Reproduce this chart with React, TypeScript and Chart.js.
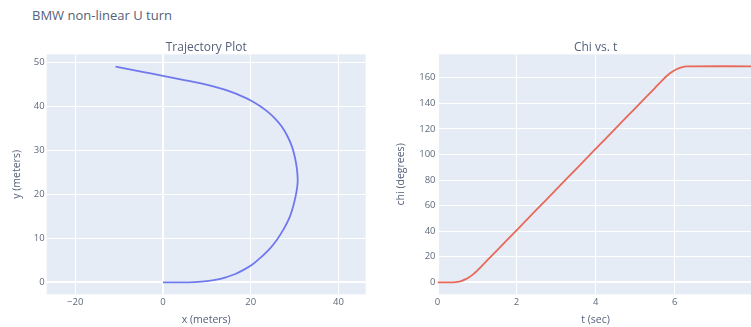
import React, { useEffect, useRef } from "react";
import { Chart, registerables } from "chart.js";

Chart.register(...registerables);

// ---- data ----
const mainTitle = "BMW non-linear U turn";

const trajX = [0, 4, 7, 10, 12.5, 14.5, 16.5, 18.3, 20.3, 22.1, 24.1, 25.9, 27.5, 28.9, 29.8, 30.4, 30.7, 30.55, 30.1, 29.4, 28.4, 27.1, 25.6, 23.9, 22.0, 20.0, 17.9, 15.7, 13.3, 10.8, 8.4, 4.0, 0.0, -5.0, -10.8];
const trajY = [0, 0, 0.05, 0.25, 0.65, 1.2, 1.9, 2.8, 4.0, 5.5, 7.4, 9.6, 12.1, 14.9, 17.8, 20.5, 23.0, 25.6, 28.3, 30.9, 33.2, 35.4, 37.2, 38.8, 40.2, 41.4, 42.4, 43.3, 44.1, 44.8, 45.35, 46.2, 47.0, 48.0, 49.1];

const chiT = [0, 0.4, 0.5, 0.6, 0.7, 0.8, 0.9, 1.0, 1.1, 1.5, 2, 2.5, 3, 3.5, 4, 4.5, 5, 5.5, 5.7, 5.8, 5.9, 6.0, 6.1, 6.2, 6.3, 6.4, 8];
const chiDeg = [0, 0, 0.25, 0.99, 2.23, 3.97, 6.2, 8.93, 12.08, 24.8, 40.7, 56.6, 72.5, 88.4, 104.3, 120.2, 136.1, 152.0, 158.4, 161.4, 163.9, 165.9, 167.4, 168.4, 168.9, 169, 169];

const trajXTicks = [-20, 0, 20, 40];
const trajYTicks = [0, 10, 20, 30, 40, 50];
const chiXTicks = [0, 2, 4, 6, 8];
const chiYTicks = [0, 20, 40, 60, 80, 100, 120, 140, 160];

const trajRange = { xMin: -26.5, xMax: 46.2, yMin: -2.73, yMax: 51.9 };
const chiRange = { xMin: 0, xMax: 8, yMin: -9.4, yMax: 178.3 };

// ---- style ----
const FONT = "'Open Sans', 'Noto Sans', Arial, sans-serif";
const TEXT = "#55617a";
const TICK = "#5e6a7c";
const PLOT_BG = "#e5ecf6";

const bgPlugin = {
  id: "plotBg",
  beforeDraw(chart: any) {
    const { ctx, chartArea } = chart;
    if (!chartArea) return;
    ctx.save();
    ctx.fillStyle = PLOT_BG;
    ctx.fillRect(chartArea.left, chartArea.top, chartArea.right - chartArea.left, chartArea.bottom - chartArea.top);
    ctx.restore();
  },
};

const fmt = (v: any) => {
  const n = Number(v);
  return n < 0 ? "\u2212" + Math.abs(n) : String(n);
};

function makeOptions(cfg: {
  title: string;
  xTitle: string;
  yTitle: string;
  xTicks: number[];
  yTicks: number[];
  range: { xMin: number; xMax: number; yMin: number; yMax: number };
  yAxisWidth: number;
  yTitlePad: number;
  rightPad: number;
}) {
  const grid = {
    color: "#ffffff",
    lineWidth: (c: any) => (c.tick && c.tick.value === 0 ? 2 : 1),
    drawTicks: false,
  };
  return {
    responsive: false,
    animation: false as const,
    layout: { padding: { left: 0, right: cfg.rightPad, top: 0, bottom: 0 } },
    plugins: {
      legend: { display: false },
      tooltip: { enabled: false },
      title: {
        display: true,
        text: cfg.title,
        fullSize: false,
        color: TEXT,
        font: { family: FONT, size: 12, weight: "normal" as const, lineHeight: 1.2 },
        padding: { top: 40, bottom: 0 },
      },
    },
    scales: {
      x: {
        type: "linear" as const,
        min: cfg.range.xMin,
        max: cfg.range.xMax,
        grid,
        border: { display: false },
        ticks: {
          color: TICK,
          font: { family: FONT, size: 9.5 },
          padding: 2,
          maxRotation: 0,
          callback: fmt,
        },
        afterBuildTicks: (s: any) => {
          s.ticks = cfg.xTicks.map((v) => ({ value: v }));
        },
        afterFit: (s: any) => {
          s.height = 32.7;
          s.paddingLeft = 0;
          s.paddingRight = 0;
        },
        title: {
          display: true,
          text: cfg.xTitle,
          color: TEXT,
          font: { family: FONT, size: 10.5, lineHeight: 1.2 },
          padding: { top: 0, bottom: 1 },
        },
      },
      y: {
        type: "linear" as const,
        min: cfg.range.yMin,
        max: cfg.range.yMax,
        grid,
        border: { display: false },
        ticks: {
          color: TICK,
          font: { family: FONT, size: 9.5 },
          padding: 2,
          callback: fmt,
        },
        afterBuildTicks: (s: any) => {
          s.ticks = cfg.yTicks.map((v) => ({ value: v }));
        },
        afterFit: (s: any) => {
          s.width = cfg.yAxisWidth;
          s.paddingTop = 0;
          s.paddingBottom = 0;
        },
        title: {
          display: true,
          text: cfg.yTitle,
          color: TEXT,
          font: { family: FONT, size: 10.5, lineHeight: 1.2 },
          padding: { top: cfg.yTitlePad, bottom: 0 },
        },
      },
    },
  };
}

function ChartCanvas(props: { left: number; width: number; build: (c: HTMLCanvasElement) => Chart }) {
  const ref = useRef<HTMLCanvasElement | null>(null);
  useEffect(() => {
    if (!ref.current) return;
    const chart = props.build(ref.current);
    return () => chart.destroy();
  }, []);
  return (
    <canvas
      ref={ref}
      width={props.width}
      height={327}
      style={{ position: "absolute", left: props.left, top: 0, width: props.width, height: 327 }}
    />
  );
}

export default function App() {
  const buildTraj = (c: HTMLCanvasElement) =>
    new Chart(c, {
      type: "line",
      data: {
        datasets: [
          {
            data: trajX.map((x, i) => ({ x, y: trajY[i] })),
            borderColor: "#7078ee",
            borderWidth: 1.8,
            pointRadius: 0,
            tension: 0.4,
            fill: false,
          },
        ],
      },
      options: makeOptions({
        title: "Trajectory Plot",
        xTitle: "x (meters)",
        yTitle: "y (meters)",
        xTicks: trajXTicks,
        yTicks: trajYTicks,
        range: trajRange,
        yAxisWidth: 46.7,
        yTitlePad: 10.7,
        rightPad: 9.3,
      }) as any,
      plugins: [bgPlugin],
    });

  const buildChi = (c: HTMLCanvasElement) =>
    new Chart(c, {
      type: "line",
      data: {
        datasets: [
          {
            data: chiT.map((x, i) => ({ x, y: chiDeg[i] })),
            borderColor: "#e8695a",
            borderWidth: 1.8,
            pointRadius: 0,
            tension: 0.3,
            fill: false,
          },
        ],
      },
      options: makeOptions({
        title: "Chi vs. t",
        xTitle: "t (sec)",
        yTitle: "chi (degrees)",
        xTicks: chiXTicks,
        yTicks: chiYTicks,
        range: chiRange,
        yAxisWidth: 57.5,
        yTitlePad: 14.7,
        rightPad: 46.3,
      }) as any,
      plugins: [bgPlugin],
    });

  return (
    <div
      style={{
        position: "absolute",
        left: 0,
        top: 0,
        width: 751,
        height: 327,
        overflow: "hidden",
        background: "#ffffff",
      }}
    >
      <div
        style={{
          position: "absolute",
          left: 32,
          top: 6,
          fontFamily: FONT,
          fontSize: 13,
          lineHeight: "18px",
          color: TEXT,
          whiteSpace: "nowrap",
        }}
      >
        {mainTitle}
      </div>
      <ChartCanvas left={0} width={375} build={buildTraj} />
      <ChartCanvas left={380} width={420} build={buildChi} />
    </div>
  );
}
